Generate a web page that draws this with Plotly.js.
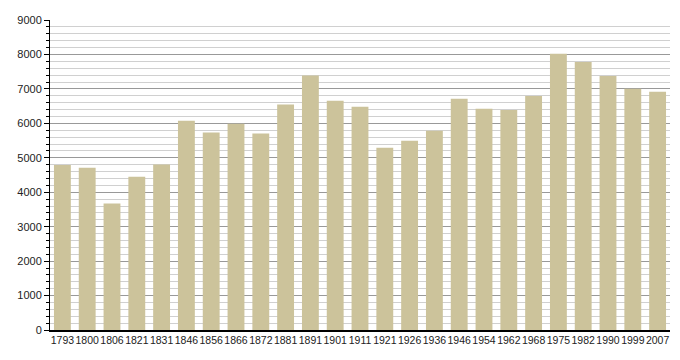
<!DOCTYPE html>
<html>
<head>
<meta charset="utf-8">
<script src="https://cdn.plot.ly/plotly-3.0.1.min.js"></script>
<style>html,body{margin:0;padding:0;background:#fff;}#chart{width:680px;height:360px;}</style>
</head>
<body>
<div id="chart"></div>
<script>
var years = ["1793","1800","1806","1821","1831","1846","1856","1866","1872","1881","1891","1901","1911","1921","1926","1936","1946","1954","1962","1968","1975","1982","1990","1999","2007"];
var population = [4790,4708,3670,4446,4804,6074,5734,5987,5705,6548,7391,6655,6481,5289,5495,5783,6713,6422,6385,6790,8021,7779,7373,7004,6917];
var yTicks = [0,1000,2000,3000,4000,5000,6000,7000,8000,9000];

var trace = {
  type: 'bar',
  x: years,
  y: population,
  marker: {color: 'rgb(204,195,155)'},
  hoverinfo: 'x+y'
};

var layout = {
  width: 680, height: 360,
  margin: {l: 50, r: 10, t: 20, b: 30},
  paper_bgcolor: '#fff', plot_bgcolor: '#fff',
  bargap: 0.32,
  showlegend: false,
  font: {family: 'Liberation Sans, Arial, sans-serif', size: 11, color: '#222'},
  xaxis: {
    type: 'category',
    showgrid: false,
    showline: true, linecolor: '#000', linewidth: 1.5,
    ticks: '', tickangle: 0, automargin: false,
    tickfont: {size: 10.5, color: '#222'},
    fixedrange: true
  },
  yaxis: {
    range: [0, 9000],
    tickvals: yTicks,
    ticktext: yTicks.map(String),
    showgrid: true, gridcolor: '#999', gridwidth: 1,
    zeroline: false,
    showline: true, linecolor: '#000', linewidth: 1,
    ticks: 'outside', ticklen: 5, tickcolor: '#000',
    tickfont: {size: 11, color: '#222'},
    minor: {dtick: 200, showgrid: true, gridcolor: '#d0d0d0', gridwidth: 1, ticks: 'outside', ticklen: 3, tickcolor: '#000'},
    fixedrange: true
  }
};

Plotly.newPlot('chart', [trace], layout, {displayModeBar: false, staticPlot: true});
</script>
</body>
</html>
